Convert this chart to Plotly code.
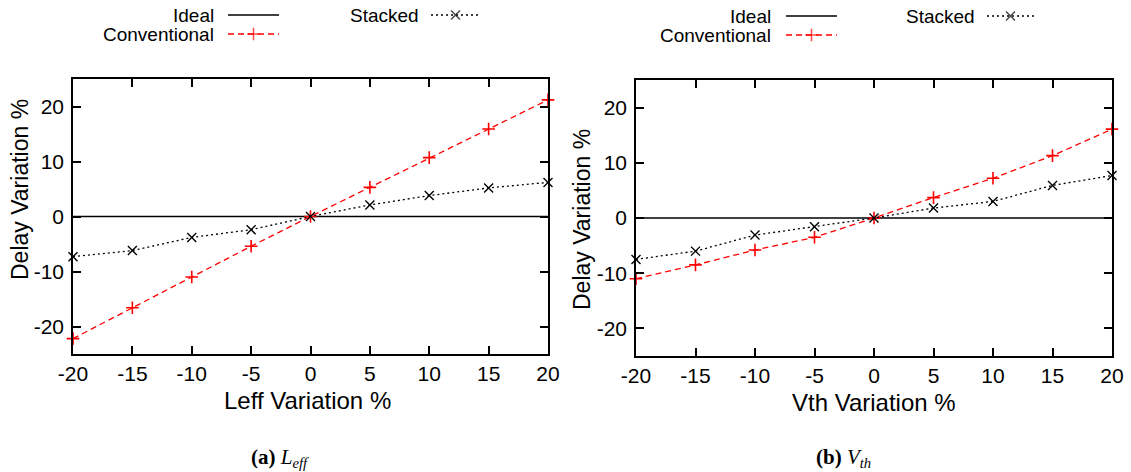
import plotly.graph_objects as go

# Variation sweep (%) shared by both panels
variation = [-20, -15, -10, -5, 0, 5, 10, 15, 20]

# Panel (a): effective channel length variation
leff_ideal = [0, 0, 0, 0, 0, 0, 0, 0, 0]
leff_conventional = [-22.2, -16.6, -11.0, -5.4, 0.0, 5.3, 10.7, 15.9, 21.2]
leff_stacked = [-7.3, -6.2, -3.8, -2.4, 0.0, 2.1, 3.8, 5.2, 6.2]

# Panel (b): threshold voltage variation
vth_ideal = [0, 0, 0, 0, 0, 0, 0, 0, 0]
vth_conventional = [-11.0, -8.5, -5.8, -3.5, 0.0, 3.7, 7.2, 11.3, 16.1]
vth_stacked = [-7.5, -6.0, -3.1, -1.6, 0.0, 1.8, 3.0, 5.9, 7.7]

x_ticks = [-20, -15, -10, -5, 0, 5, 10, 15, 20]
x_tick_labels = ["-20", "-15", "-10", "-5", "0", "5", "10", "15", "20"]
y_ticks = [-20, -10, 0, 10, 20]
y_tick_labels = ["-20", "-10", "0", "10", "20"]

W, H = 1131, 472
SANS = "Liberation Sans, Arial, sans-serif"
SERIF = "Liberation Serif, Times New Roman, serif"
RED = "#ff0000"

fig = go.Figure()


def add_panel(xa, ya, ideal, conv, stack):
    fig.add_trace(go.Scatter(x=variation, y=ideal, mode="lines",
                             line=dict(color="black", width=1.5),
                             xaxis=xa, yaxis=ya, showlegend=False))
    fig.add_trace(go.Scatter(x=variation, y=conv, mode="lines+markers",
                             line=dict(color=RED, width=1.3, dash="6px,4px"),
                             marker=dict(symbol="cross-thin", size=9,
                                         line=dict(color=RED, width=1.6)),
                             cliponaxis=False, xaxis=xa, yaxis=ya, showlegend=False))
    fig.add_trace(go.Scatter(x=variation, y=stack, mode="lines+markers",
                             line=dict(color="black", width=1.3, dash="2px,3px"),
                             marker=dict(symbol="x-thin", size=9,
                                         line=dict(color="black", width=1.4)),
                             cliponaxis=False, xaxis=xa, yaxis=ya, showlegend=False))


add_panel("x", "y", leff_ideal, leff_conventional, leff_stacked)
add_panel("x2", "y2", vth_ideal, vth_conventional, vth_stacked)

# Key samples, drawn on a pixel-scaled overlay axis
def key_sample(x0, x1, y, color, dash, symbol, width):
    xm = (x0 + x1) / 2
    sizes = [0, 0 if symbol is None else 9, 0]
    fig.add_trace(go.Scatter(
        x=[x0, xm, x1], y=[y, y, y], mode="lines+markers",
        line=dict(color=color, width=width, dash=dash),
        marker=dict(symbol=symbol or "circle", size=sizes,
                    line=dict(color=color, width=1.5), color=color),
        cliponaxis=False, xaxis="x3", yaxis="y3", showlegend=False, hoverinfo="skip"))


def key_block(text_right, y_top, stack_right, stack_x0, stack_x1, line_x0, line_x1):
    key_sample(line_x0, line_x1, y_top, "black", "solid", None, 1.5)
    key_sample(line_x0, line_x1, y_top + 19, RED, "6px,4px", "cross-thin", 1.3)
    key_sample(stack_x0, stack_x1, y_top, "black", "2px,3px", "x-thin", 1.3)
    for txt, xr, yy in [("Ideal", text_right, y_top),
                        ("Conventional", text_right, y_top + 19),
                        ("Stacked", stack_right, y_top)]:
        fig.add_annotation(text=txt, x=xr, y=yy, xref="x3", yref="y3",
                           xanchor="right", yanchor="middle", showarrow=False,
                           font=dict(family=SANS, size=19, color="black"))


key_block(216, 15, 421, 431, 480, 228, 279)
key_block(773, 16, 977, 987, 1034, 786, 837)

axis_common = dict(
    showline=True, linecolor="black", linewidth=1.5, mirror="allticks",
    ticks="inside", ticklen=8, tickwidth=1.5, tickcolor="black",
    showgrid=False, zeroline=False, automargin=False, tickmode="array",
    tickfont=dict(family=SANS, size=21, color="black"),
)

fig.update_layout(
    width=W, height=H, margin=dict(l=0, r=0, t=0, b=0, autoexpand=False),
    paper_bgcolor="white", plot_bgcolor="rgba(0,0,0,0)",
    xaxis=dict(axis_common, domain=[73 / W, 548 / W], range=[-20, 20],
               tickvals=x_ticks, ticktext=x_tick_labels, anchor="y"),
    yaxis=dict(axis_common, domain=[1 - 354 / H, 1 - 79 / H], range=[-25, 25],
               tickvals=y_ticks, ticktext=y_tick_labels, anchor="x",
               ticklabelstandoff=3),
    xaxis2=dict(axis_common, domain=[636 / W, 1112 / W], range=[-20, 20],
                tickvals=x_ticks, ticktext=x_tick_labels, anchor="y2"),
    yaxis2=dict(axis_common, domain=[1 - 356 / H, 1 - 80 / H], range=[-25, 25],
                tickvals=y_ticks, ticktext=y_tick_labels, anchor="x2",
                ticklabelstandoff=3),
    xaxis3=dict(domain=[0, 1], range=[0, W], visible=False, anchor="y3",
                automargin=False),
    yaxis3=dict(domain=[0, 1], range=[H, 0], visible=False, anchor="x3",
                automargin=False),
)

# Axis titles
for txt, x, y in [("Leff Variation %", 307, 400), ("Vth Variation %", 874, 402)]:
    fig.add_annotation(text=txt, x=x, y=y, xref="x3", yref="y3",
                       xanchor="center", yanchor="middle", showarrow=False,
                       font=dict(family=SANS, size=24, color="black"))
for x, y in [(20, 190), (582, 220)]:
    fig.add_annotation(text="Delay Variation %", x=x, y=y, xref="x3", yref="y3",
                       xanchor="center", yanchor="middle", showarrow=False,
                       textangle=-90, font=dict(family=SANS, size=23, color="black"))

# Sub-figure captions
for txt, x in [("<b>(a)</b> <i>L</i><sub><i>eff</i></sub>", 280),
               ("<b>(b)</b> <i>V</i><sub><i>th</i></sub>", 843)]:
    fig.add_annotation(text=txt, x=x, y=458, xref="x3", yref="y3",
                       xanchor="center", yanchor="middle", showarrow=False,
                       font=dict(family=SERIF, size=21, color="black"))

fig.write_html("out.html")
